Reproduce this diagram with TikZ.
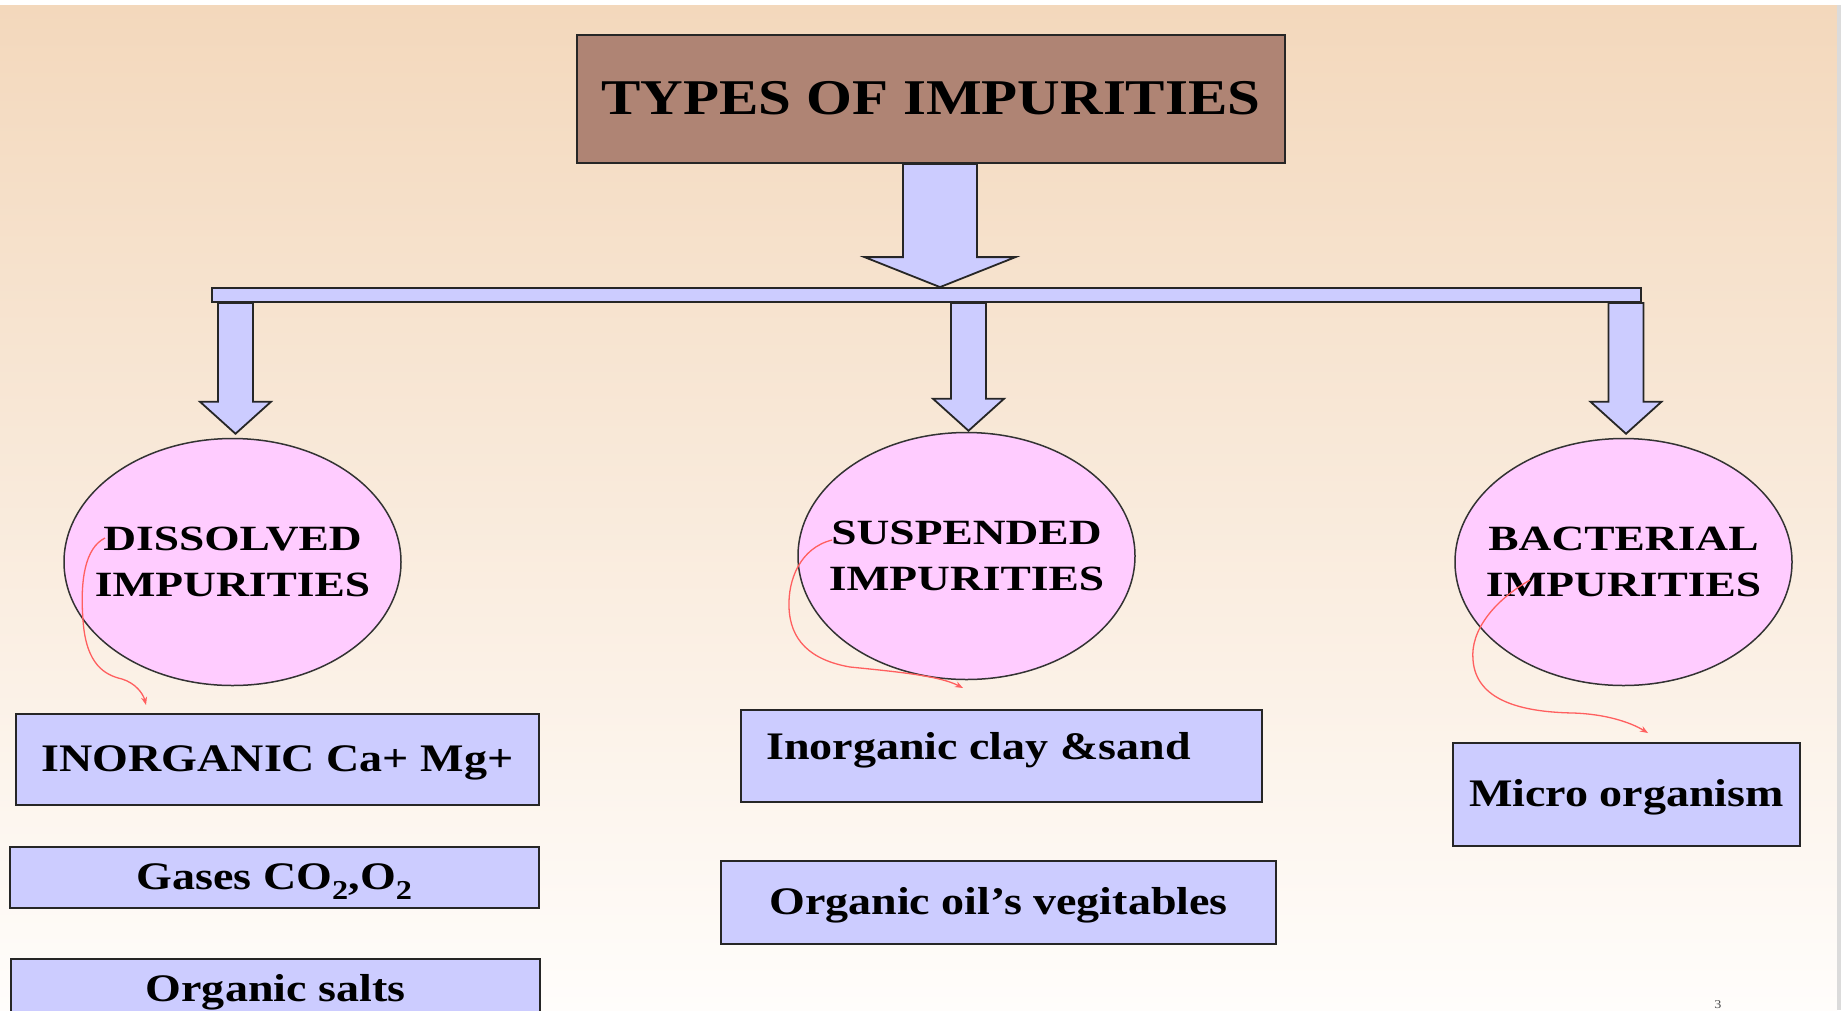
\documentclass[tikz,border=0pt]{standalone}
\usepackage{fontspec}
\setmainfont{Liberation Serif}[FakeStretch=1.18]
\newfontfamily\ellfont{Liberation Serif}[FakeStretch=1.28]
\usetikzlibrary{arrows.meta,calc,shapes.geometric}
\definecolor{peach}{RGB}{243,216,188}
\definecolor{paper}{RGB}{255,253,251}
\definecolor{titlebrown}{RGB}{175,132,116}
\definecolor{lav}{RGB}{204,204,255}
\definecolor{pinkfill}{RGB}{255,204,255}
\definecolor{redline}{RGB}{255,95,95}
\tikzset{
 titlebox/.style={draw=black!85,line width=2pt,fill=titlebrown,minimum width=708pt,minimum height=128pt,inner sep=0pt,text height=36pt,text depth=6pt,font=\fontsize{50}{60}\selectfont\bfseries},
 barbox/.style={draw=black!85,line width=1.8pt,fill=lav,minimum width=1429pt,minimum height=14pt,inner sep=0pt},
 blockarr/.style={draw=black!85,line width=1.8pt,fill=lav,line join=miter},
 ellnode/.style={ellipse,draw=black!80,line width=1.5pt,fill=pinkfill,minimum width=337pt,minimum height=247pt,inner sep=0pt},
 elltext/.style={inner sep=0pt,align=center,font=\ellfont\fontsize{35.5}{46}\selectfont\bfseries},
 itembox/.style={draw=black!85,line width=2pt,fill=lav,inner sep=0pt,text height=30pt,text depth=6pt,font=\fontsize{39}{46}\selectfont\bfseries},
 itemtext/.style={inner sep=0pt,font=\fontsize{39}{46}\selectfont\bfseries},
 redcon/.style={draw=redline,line width=1.3pt,-{Stealth[length=8pt,width=6pt]}},
}
\newcommand\myblockarrow[5]{%
 \draw[blockarr] let \p1=(#1), \p2=(#2) in
  (\x1-#3pt,\y1) -- (\x1+#3pt,\y1) -- (\x1+#3pt,\y2+#5pt) -- (\x1+#4pt,\y2+#5pt)
  -- (\x1,\y2) -- (\x1-#4pt,\y2+#5pt) -- (\x1-#3pt,\y2+#5pt) -- cycle;}
\begin{document}
\begin{tikzpicture}[x=1pt,y=-1pt]
\useasboundingbox (0,0) rectangle (1841,1010);
\fill[white] (0,0) rectangle (1841,1010);
\shade[top color=peach,bottom color=paper] (0,5) rectangle (1837,1010);
\fill[black!14] (1837,5) rectangle (1841,1010);

% title and bar
\node[titlebox] (title) at (931,99) {TYPES OF IMPURITIES};
\node[barbox] (bar) at (926.5,295) {};

% ellipses
\node[ellnode] (e1) at (232.5,562) {};
\node[elltext] (e1t) at (e1.center) {DISSOLVED\\IMPURITIES};
\node[ellnode] (e2) at (966.5,556) {};
\node[elltext] (e2t) at (e2.center) {SUSPENDED\\IMPURITIES};
\node[ellnode] (e3) at (1623.5,562) {};
\node[elltext] (e3t) at (e3.center) {BACTERIAL\\IMPURITIES};

% main arrow
\coordinate (ma) at ($(title.south)+(9,0)$);
\coordinate (mb) at (bar.north -| ma);
\myblockarrow{ma}{mb}{37}{75.5}{30}

% child arrows
\coordinate (a1e) at ($(e1.north)+(3,-4)$);
\coordinate (a1s) at (bar.south -| a1e);
\coordinate (a2e) at ($(e2.north)+(2,-1)$);
\coordinate (a2s) at (bar.south -| a2e);
\coordinate (a3e) at ($(e3.north)+(2.5,-4)$);
\coordinate (a3s) at (bar.south -| a3e);
\myblockarrow{a1s}{a1e}{17.5}{35.5}{32}
\myblockarrow{a2s}{a2e}{17.5}{35.5}{32}
\myblockarrow{a3s}{a3e}{17.5}{35.5}{32}

% item boxes
\node[itembox,minimum width=523pt,minimum height=91pt] (b1) at (277.5,759.5) {INORGANIC Ca+ Mg+};
\node[itembox,minimum width=529pt,minimum height=61pt] (b2) at (274.5,877.5) {Gases CO\textsubscript{2},O\textsubscript{2}};
\node[itembox,minimum width=529pt,minimum height=61pt] (b3) at (275.5,989.5) {Organic salts};
\node[itembox,minimum width=521pt,minimum height=92pt] (b4) at (1001.5,756) {};
\node[itemtext,anchor=base west] (b4t) at (766,759) {Inorganic clay \&sand};
\node[itembox,minimum width=555pt,minimum height=83pt] (b5) at (998.5,902.5) {Organic oil’s vegitables};
\node[itembox,minimum width=347pt,minimum height=103pt] (b6) at (1626.5,794.5) {Micro organism};

% red curved connectors
\coordinate (r1s) at (105,538);
\coordinate (r1e) at (146,705);
\draw[redcon] (r1s) .. controls (85,548) and (80,580) .. (83,620)
  .. controls (86,665) and (105,675) .. (122,679)
  .. controls (135,683) and (143,693) .. (r1e);
\coordinate (r2s) at (832,540);
\coordinate (r2e) at (963,688);
\draw[redcon] (r2s) .. controls (800,548) and (788,580) .. (789,607)
  .. controls (790,640) and (810,660) .. (850,667)
  .. controls (900,672) and (940,676) .. (r2e);
\coordinate (r3s) at (1530,580);
\coordinate (r3e) at (1648,733);
\draw[redcon] (r3s) .. controls (1495,600) and (1470,630) .. (1473,660)
  .. controls (1476,700) and (1520,712) .. (1573,713)
  .. controls (1605,714) and (1630,722) .. (r3e);

% page number
\node[anchor=base,inner sep=0pt,text=black!70,font=\fontsize{12}{12}\selectfont] (pg) at (1718,1008) {3};
\end{tikzpicture}
\end{document}
